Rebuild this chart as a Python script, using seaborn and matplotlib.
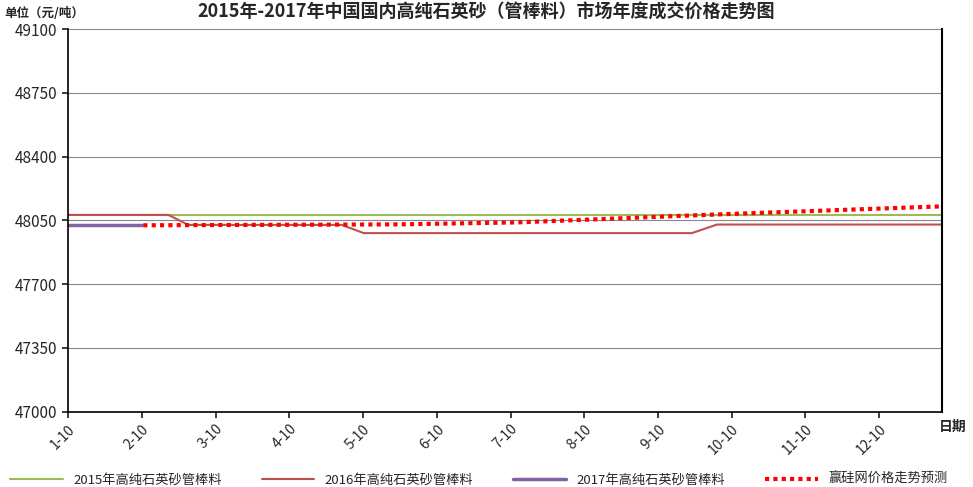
import numpy as np
import matplotlib.pyplot as plt
import seaborn as sns

sns.set_theme(style="white")
plt.rcParams['font.family'] = ['Noto Sans CJK SC', 'DejaVu Sans']

# x in months since 1-10
tick_labels = ["1-10", "2-10", "3-10", "4-10", "5-10", "6-10",
               "7-10", "8-10", "9-10", "10-10", "11-10", "12-10"]
x2015 = [0, 11.85]
y2015 = [48080, 48080]
x2016 = [0, 1.36, 1.63, 3.71, 4.01, 8.46, 8.80, 11.85]
y2016 = [48080, 48080, 48025, 48025, 47980, 47980, 48027, 48027]
x2017 = [0, 1.0]
y2017 = [48025, 48025]
xfc = [1.02, 4.48, 6.11, 8.83, 11.85]
yfc = [48023, 48028, 48039, 48083, 48127]

fig, ax = plt.subplots(figsize=(9.73, 4.87), dpi=100)
sns.lineplot(x=x2015, y=y2015, ax=ax, color="#9bbb59", lw=1.5, label="2015年高纯石英砂管棒料")
sns.lineplot(x=x2016, y=y2016, ax=ax, color="#c0504d", lw=1.5, label="2016年高纯石英砂管棒料")
sns.lineplot(x=x2017, y=y2017, ax=ax, color="#8064a2", lw=2.5, label="2017年高纯石英砂管棒料")
sns.lineplot(x=xfc, y=yfc, ax=ax, color="#ff0000", lw=3, linestyle=(0, (1, 1)), label="赢硅网价格走势预测")

ax.set_xlim(0, 11.85)
ax.set_ylim(47000, 49100)
ax.set_yticks(np.arange(47000, 49101, 350))
ax.set_xticks(range(12))
ax.set_xticklabels(tick_labels, rotation=45, ha="right", rotation_mode="anchor", fontsize=10)
ax.tick_params(axis="y", labelsize=11, left=True, length=4)
ax.tick_params(axis="x", bottom=True, length=4)
ax.yaxis.grid(True, color="#888888", lw=0.8)
for s in ["left", "bottom"]:
    ax.spines[s].set_color("black")
    ax.spines[s].set_linewidth(1.2)
ax.spines["right"].set_color("black")
ax.spines["right"].set_linewidth(1.5)
ax.spines["top"].set_visible(False)
ax.set_xlabel("")
ax.set_ylabel("")

fig.suptitle("2015年-2017年中国国内高纯石英砂（管棒料）市场年度成交价格走势图",
             fontsize=13, fontweight="bold", y=0.995)
fig.text(0.005, 0.965, "单位（元/吨）", fontsize=9, fontweight="bold")
fig.text(0.965, 0.115, "日期", fontsize=10, fontweight="bold")
ax.legend(loc="upper center", bbox_to_anchor=(0.47, -0.13), ncol=4, frameon=False,
          fontsize=9.5, handlelength=4, columnspacing=3)

plt.subplots_adjust(left=0.07, right=0.968, top=0.94, bottom=0.155)
fig.savefig("out.png", dpi=100)
